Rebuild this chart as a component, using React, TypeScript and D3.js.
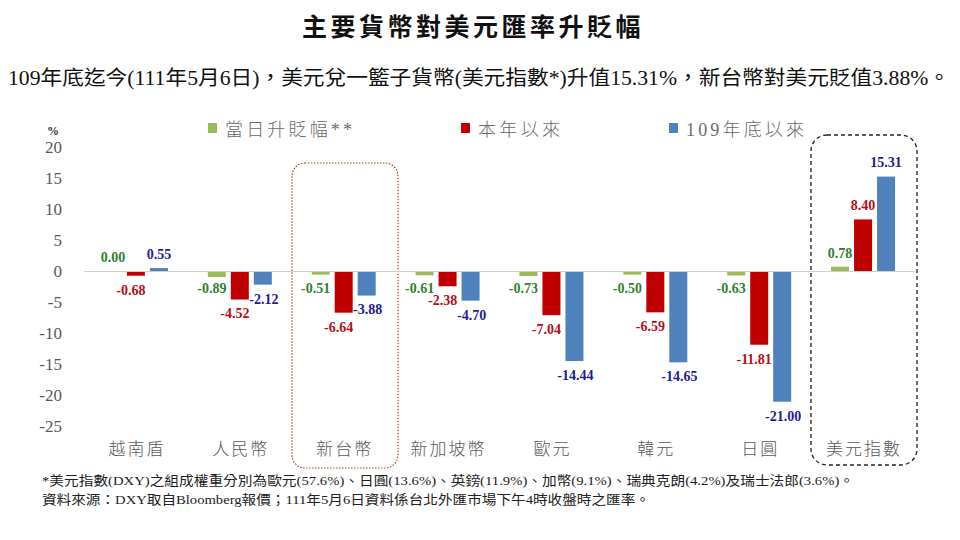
import React from "react";
import * as d3 from "d3";

const categories = ["越南盾", "人民幣", "新台幣", "新加坡幣", "歐元", "韓元", "日圓", "美元指數"];
const dailyChange = [0.0, -0.89, -0.51, -0.61, -0.73, -0.5, -0.63, 0.78];
const ytdChange = [-0.68, -4.52, -6.64, -2.38, -7.04, -6.59, -11.81, 8.4];
const since109Change = [0.55, -2.12, -3.88, -4.7, -14.44, -14.65, -21.0, 15.31];
const seriesNames = ["當日升貶幅**", "本年以來", "109年底以來"];
const yTicks = [20, 15, 10, 5, 0, -5, -10, -15, -20, -25];

const title = "主要貨幣對美元匯率升貶幅";
const subtitle = "109年底迄今(111年5月6日)，美元兌一籃子貨幣(美元指數*)升值15.31%，新台幣對美元貶值3.88%。";
const note1 = "*美元指數(DXY)之組成權重分別為歐元(57.6%)、日圓(13.6%)、英鎊(11.9%)、加幣(9.1%)、瑞典克朗(4.2%)及瑞士法郎(3.6%)。";
const note2 = "資料來源：DXY取自Bloomberg報價；111年5月6日資料係台北外匯市場下午4時收盤時之匯率。";

const barColors = ["#9bbb59", "#c00000", "#4f81bd"];
const labelColors = ["#2f7f2f", "#b01018", "#1c1c96"];
const labelDx = [-5, -5, 1];

const SERIF = "'Liberation Serif', 'Times New Roman', 'Noto Sans CJK TC', serif";
const CJK = "'Liberation Serif', 'Noto Sans CJK TC', serif";

export default function App() {
  const W = 960;
  const H = 540;
  const x = d3.scaleBand<string>().domain(categories).range([84, 915]).padding(0);
  const y = d3.scaleLinear().domain([-25, 20]).range([426.5, 147.5]);
  const offsets = [-23, 0, 23];
  const bw = 18;
  const series = [dailyChange, ytdChange, since109Change];

  const legendX = [208, 461, 669];
  const legendW = [127, 82, 118];

  return (
    <svg width={W} height={H} style={{ position: "absolute", left: 0, top: 0, background: "#fff" }}>
      <rect x={0} y={0} width={W} height={H} fill="#fff" />
      {/* title */}
      <text x={473} y={36} textAnchor="middle" fontFamily={CJK} fontWeight="bold" fontSize={25} fill="#111" letterSpacing={3.5}>
        {title}
      </text>
      <text x={8} y={85} fontFamily={CJK} fontSize={20} fill="#111" textLength={942} lengthAdjust="spacingAndGlyphs">
        {subtitle}
      </text>

      {/* highlight boxes */}
      <rect x={292} y={163} width={106} height={305} rx={13} fill="none" stroke="#c0392b" strokeWidth={1.2} strokeDasharray="1.5 1.5" />
      <rect x={811} y={135} width={106} height={330} rx={16} fill="none" stroke="#222" strokeWidth={1.3} strokeDasharray="4 3" />

      {/* y axis ticks */}
      <text x={53} y={135} fontFamily={SERIF} fontSize={12} fill="#333" fontWeight="bold" textAnchor="middle">%</text>
      {yTicks.map((t) => (
        <text key={t} x={62} y={y(t)} dy="0.35em" textAnchor="end" fontFamily={SERIF} fontSize={17} fill="#595959">
          {t}
        </text>
      ))}

      {/* legend */}
      {seriesNames.map((s, i) => (
        <g key={s}>
          <rect x={legendX[i]} y={123} width={9} height={10} fill={barColors[i]} />
          <text x={legendX[i] + 17} y={136} fontFamily={CJK} fontSize={18} fontWeight={300} fill="#6a6a6a" textLength={legendW[i]} lengthAdjust="spacing">
            {s}
          </text>
        </g>
      ))}

      {/* bars */}
      {categories.map((c, ci) => {
        const cx = (x(c) as number) + x.bandwidth() / 2;
        return (
          <g key={c}>
            {series.map((arr, si) => {
              const v = arr[ci];
              const bx = cx + offsets[si] - bw / 2;
              const y0 = y(0);
              const yv = y(v);
              const top = Math.min(y0, yv);
              const h = Math.abs(yv - y0);
              return <rect key={si} x={bx} y={top} width={bw} height={h} fill={barColors[si]} />;
            })}
          </g>
        );
      })}

      {/* zero line */}
      <line x1={84} x2={915} y1={y(0)} y2={y(0)} stroke="#d0d0d0" strokeWidth={1} />

      {/* data labels */}
      {categories.map((c, ci) => {
        const cx = (x(c) as number) + x.bandwidth() / 2;
        return (
          <g key={"l" + c}>
            {series.map((arr, si) => {
              const v = arr[ci];
              const pos = v >= 0;
              const end = y(v);
              const base = y(0);
              let ly = pos ? Math.min(end, base) - 14 : Math.max(end, base) + 14;
              if (si === 0 && !pos) ly = base + 17;
              const lx = cx + offsets[si] + (pos ? 0 : labelDx[si]);
              return (
                <text key={si} x={lx} y={ly} dy="0.35em" textAnchor="middle" fontFamily={SERIF} fontWeight="bold" fontSize={14} fill={labelColors[si]}>
                  {v.toFixed(2)}
                </text>
              );
            })}
          </g>
        );
      })}

      {/* category labels */}
      {categories.map((c) => (
        <text key={"c" + c} x={(x(c) as number) + x.bandwidth() / 2 + 1} y={449} dy="0.35em" textAnchor="middle" fontFamily={CJK} fontSize={17} fontWeight={300} fill="#595959" letterSpacing={2}>
          {c}
        </text>
      ))}

      {/* notes */}
      <text x={42} y={485} fontFamily={CJK} fontSize={13} fill="#222" textLength={812} lengthAdjust="spacingAndGlyphs">
        {note1}
      </text>
      <text x={42} y={504} fontFamily={CJK} fontSize={13} fill="#222" textLength={608} lengthAdjust="spacingAndGlyphs">
        {note2}
      </text>
    </svg>
  );
}
